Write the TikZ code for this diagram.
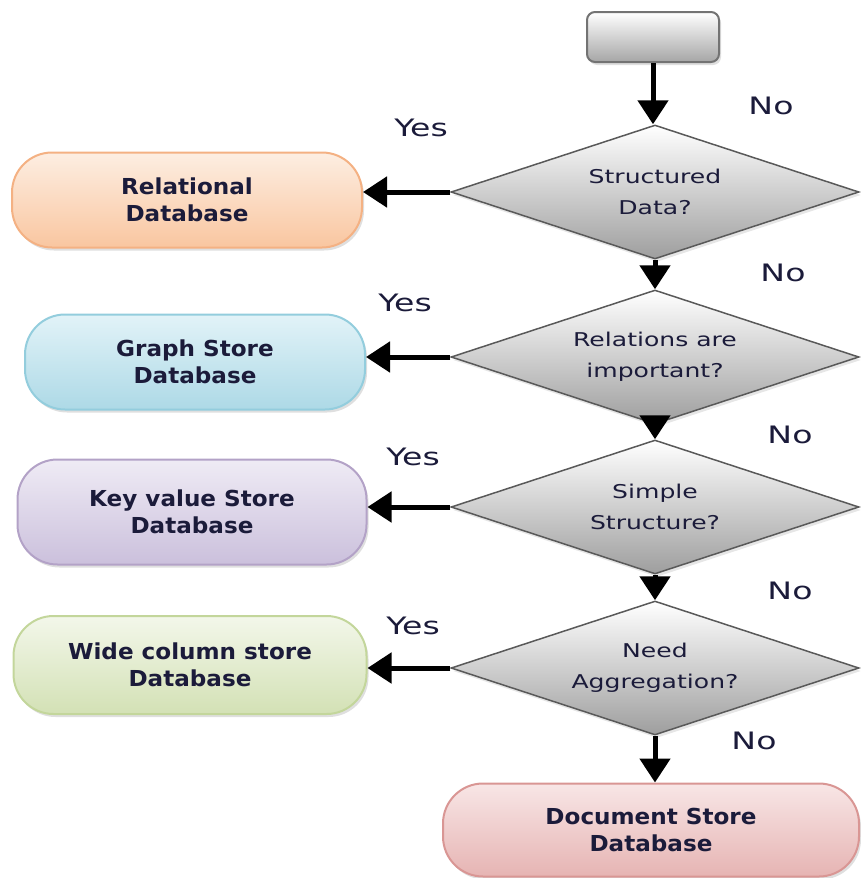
\documentclass[tikz,border=0pt]{standalone}
\usepackage{fontspec}
\setmainfont{DejaVu Sans}
\newfontfamily\dbfont{DejaVu Sans}[FakeStretch=1.05]
\newfontfamily\askfont{DejaVu Sans}[FakeStretch=1.38]
\newfontfamily\qtext{DejaVu Sans}[FakeStretch=1.32]
\usetikzlibrary{arrows.meta, shapes.geometric, shadows}
\definecolor{ink}{HTML}{1B1B3A}
\definecolor{relline}{HTML}{F4B183}\definecolor{reltop}{HTML}{FDEEE2}\definecolor{relbot}{HTML}{F9C6A0}
\definecolor{grline}{HTML}{93CDDD}\definecolor{grtop}{HTML}{E2F3F8}\definecolor{grbot}{HTML}{ADD9E6}
\definecolor{kvline}{HTML}{B3A2C7}\definecolor{kvtop}{HTML}{EFEBF5}\definecolor{kvbot}{HTML}{CBC0DC}
\definecolor{wcline}{HTML}{C3D69B}\definecolor{wctop}{HTML}{F3F7EA}\definecolor{wcbot}{HTML}{D3E1B5}
\definecolor{dcline}{HTML}{D99694}\definecolor{dctop}{HTML}{F8E6E6}\definecolor{dcbot}{HTML}{E6B4B3}
\tikzstyle{flow}=[x=1pt, y=-1pt, >={Triangle[length=24pt,width=30pt]}]
\tikzstyle{store}=[rounded corners=40pt, line width=2pt, align=center,
  minimum height=95pt, text=ink, font=\dbfont\bfseries\fontsize{22}{27}\selectfont,
  drop shadow={opacity=0.25, shadow xshift=2pt, shadow yshift=-3pt}]
\tikzstyle{ask}=[diamond, aspect=3, draw=black!65, line width=1.5pt, inner sep=0pt,
  minimum width=408pt, minimum height=134pt, align=center, text=ink,
  top color=white, bottom color=black!38,
  font=\qtext\fontsize{19}{31}\selectfont,
  drop shadow={opacity=0.2, shadow xshift=2pt, shadow yshift=-3pt}]
\tikzstyle{answer}=[text=ink, font=\askfont\fontsize{24}{28}\selectfont]
\tikzstyle{go}=[->, line width=5pt]

\begin{document}
\begin{tikzpicture}[flow]
  \useasboundingbox (0,0) rectangle (861,878);
  % start
  \node[draw=black!55, line width=2pt, rounded corners=8pt, minimum width=132pt,
    minimum height=50pt, top color=white, bottom color=black!35,
    drop shadow={opacity=0.25, shadow xshift=2pt, shadow yshift=-3pt}] (start) at (653,37) {};
  % questions
  \node[ask] (q1) at (655,192) {Structured\\Data?};
  \node[ask] (q2) at (655,357) {Relations are\\important?};
  \node[ask] (q3) at (655,507) {Simple\\Structure?};
  \node[ask] (q4) at (655,668) {Need\\Aggregation?};
  % stores
  \node[store, draw=relline, top color=reltop, bottom color=relbot, minimum width=350pt] (rel) at (187,200) {Relational\\Database};
  \node[store, draw=grline, top color=grtop, bottom color=grbot, minimum width=340pt] (graph) at (195,362) {Graph Store\\Database};
  \node[store, draw=kvline, top color=kvtop, bottom color=kvbot, minimum width=349pt, minimum height=105pt] (kv) at (192,512) {Key value Store\\Database};
  \node[store, draw=wcline, top color=wctop, bottom color=wcbot, minimum width=353pt, minimum height=98pt] (wide) at (190,665) {Wide column store\\Database};
  \node[store, draw=dcline, top color=dctop, bottom color=dcbot, minimum width=416pt, minimum height=93pt] (doc) at (651,830) {Document Store\\Database};
  % labels
  \node[answer] (yes1) at (421,128) {Yes};
  \node[answer] (no1) at (771,106) {No};
  \node[answer] (yes2) at (405,303) {Yes};
  \node[answer] (no2) at (783,273) {No};
  \node[answer] (yes3) at (413,457) {Yes};
  \node[answer] (no3) at (790,435) {No};
  \node[answer] (yes4) at (413,626) {Yes};
  \node[answer] (no4) at (790,591) {No};
  \node[answer] (no5) at (754,741) {No};
  % arrows
  \path[go] (start.south) edge (start.south |- q1.north);
  \path[go] (q1.south) edge (q2.north);
  \path[go] (q2.south) edge (q3.north);
  \path[go] (q3.south) edge (q4.north);
  \path[go] (q4.south) edge (doc.north -| q4.south);
  \path[go] (q1.west) edge (q1.west -| rel.east);
  \path[go] (q2.west) edge (q2.west -| graph.east);
  \path[go] (q3.west) edge (q3.west -| kv.east);
  \path[go] (q4.west) edge (q4.west -| wide.east);
\end{tikzpicture}
\end{document}
